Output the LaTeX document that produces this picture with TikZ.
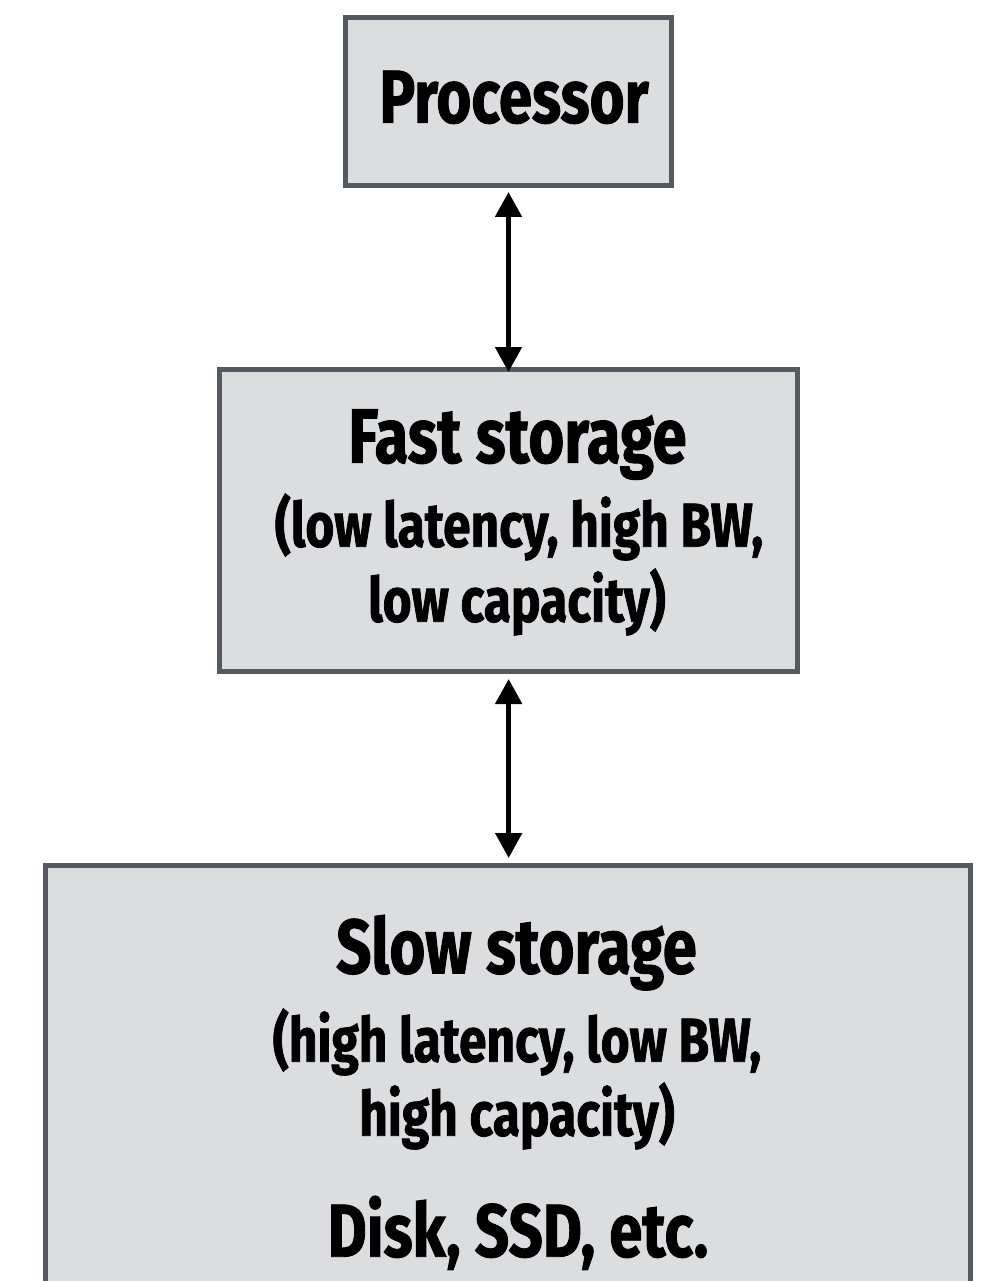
\documentclass[tikz,border=0pt]{standalone}
\usepackage{fontspec}
\newfontfamily\cond[FakeStretch=0.8,FakeBold=1.2]{Fira Sans}
\usetikzlibrary{arrows.meta}
\definecolor{boxline}{RGB}{85,89,96}
\definecolor{boxfill}{RGB}{220,221,223}
\begin{document}
\begin{tikzpicture}[x=1pt,y=-1pt,
  box/.style={draw=boxline, fill=boxfill, line width=5pt, inner sep=0pt, outer sep=2.5pt},
  conn/.style={line width=5pt, black, {Triangle[length=25pt,width=26pt]}-{Triangle[length=25pt,width=26pt]}},
  bigtxt/.style={anchor=base, inner sep=0pt, font=\cond\bfseries\fontsize{77}{77}\selectfont},
  prctxt/.style={anchor=base, inner sep=0pt, font=\cond\bfseries\fontsize{75}{75}\selectfont},
  midtxt/.style={anchor=base, inner sep=0pt, font=\cond\bfseries\fontsize{62}{62}\selectfont}]
\useasboundingbox (0,0) rectangle (987,1281);
\clip (0,0) rectangle (987,1281);
\fill[white] (0,0) rectangle (987,1281);
% boxes
\node[box, minimum width=326pt, minimum height=168pt] (proc) at (508.5,101.5) {};
\node[box, minimum width=578pt, minimum height=302.5pt] (fast) at (508.65,520.25) {};
\node[box, minimum width=924.5pt, minimum height=534.5pt] (slow) at (507.75,1132.75) {};
% texts
\node[prctxt] (proctext) at (514,122.7) {Processor};
\node[bigtxt] (fasttitle) at (517.5,462.7) {Fast storage};
\node[midtxt] (fastline1) at (519,546.7) {(low latency, high BW,};
\node[midtxt] (fastline2) at (517,621.7) {low capacity)};
\node[bigtxt] (slowtitle) at (516.5,973.3) {Slow storage};
\node[midtxt] (slowline1) at (517,1061.7) {(high latency, low BW,};
\node[midtxt] (slowline2) at (517,1135.7) {high capacity)};
\node[prctxt] (disktext) at (518,1256.7) {Disk, SSD, etc.};
% connectors
\draw[conn, shorten <=4pt, shorten >=-5.5pt] (proc.south) -- (proc.south |- fast.north);
\draw[conn, shorten <=5pt, shorten >=5pt] (fast.south) -- (fast.south |- slow.north);
\end{tikzpicture}
\end{document}
